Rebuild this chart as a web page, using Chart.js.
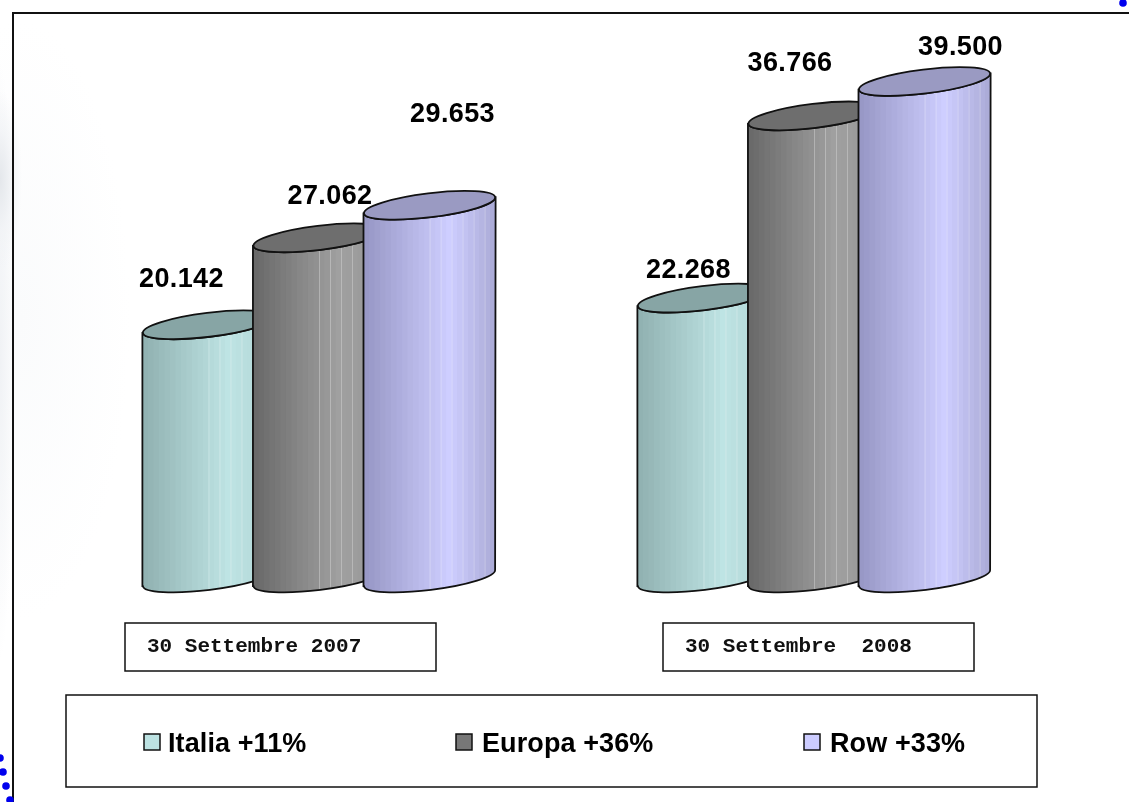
<!DOCTYPE html>
<html>
<head>
<meta charset="utf-8">
<title>Italia Europa Row</title>
<script src="https://cdn.jsdelivr.net/npm/chart.js@4"></script>
<style>
  html, body { margin: 0; padding: 0; width: 1129px; height: 802px; overflow: hidden; }
  body {
    background:
      radial-gradient(ellipse 22px 90px at 0px 180px, #e4e7eb 0%, rgba(240,242,245,0.7) 55%, rgba(255,255,255,0) 100%),
      radial-gradient(ellipse 14px 300px at 0px 360px, #f0f2f5 0%, rgba(255,255,255,0) 100%),
      radial-gradient(ellipse 110px 300px at 20px 320px, #fafbfc 0%, rgba(255,255,255,0) 100%),
      #ffffff;
  }
  canvas { display: block; }
</style>
</head>
<body>
<canvas id="chart" width="1129" height="802"></canvas>
<script>
/* ── dati ── */
const categories = ['30 Settembre 2007', '30 Settembre  2008'];
const seriesNames = ['Italia +11%', 'Europa +36%', 'Row +33%'];
const italia = [20142, 22268];
const europa = [27062, 36766];
const row = [29653, 39500];

// label offsets from the top of each cylinder (the labels are placed by hand in the original)
const labelOffsets = [
  [[-27, -45], [-15, -28]],
  [[11, -41], [-24, -52]],
  [[23, -91], [36, -34]]
];

const seriesStyles = [
  { lo: [143, 176, 176], hi: [190, 228, 228], end: [176, 212, 212], top: '#87a5a5', swatch: '#bce2e2' },
  { lo: [104, 104, 104], hi: [160, 160, 160], end: [150, 150, 150], top: '#6e6e6e', swatch: '#777777' },
  { lo: [150, 150, 196], hi: [206, 206, 255], end: [170, 170, 214], top: '#9a9ac2', swatch: '#ccccff' }
];

const legendX = [144, 456, 804];
const legendTextX = [168, 482, 830];
const boxes = [[125, 623, 311, 48, 147], [663, 623, 311, 48, 685]];

const fmt = v => String(v).replace(/\B(?=(\d{3})+$)/g, '.');

function mix(a, b, t) {
  return a.map((c, i) => Math.round(c + (b[i] - c) * t));
}

// ── Cylinders ──

function drawCylinder(ctx, bar, style) {
  const a = bar.width / 2;
  const b = 12;
  const tilt = -7 * Math.PI / 180;
  const dy = a * Math.sin(-tilt);
  const left = bar.x - a;
  const right = bar.x + a;

  ctx.save();
  ctx.beginPath();
  ctx.moveTo(left, bar.y + dy);
  ctx.lineTo(left, bar.base + dy);
  ctx.ellipse(bar.x, bar.base, a, b, tilt, Math.PI, 0, true);
  ctx.lineTo(right, bar.y - dy);
  ctx.ellipse(bar.x, bar.y, a, b, tilt, 0, Math.PI, false);
  ctx.closePath();

  ctx.save();
  ctx.clip();
  const bands = 24;
  const bw = bar.width / bands;
  for (let i = 0; i < bands; i++) {
    const t = (i + 0.5) / bands;
    const c = t < 0.65 ? mix(style.lo, style.hi, t / 0.65) : mix(style.hi, style.end, (t - 0.65) / 0.35);
    ctx.fillStyle = `rgb(${c.join(',')})`;
    ctx.fillRect(left + i * bw, bar.y - 30, bw + 1, bar.base - bar.y + 60);
    if (i > 11 && i % 2 === 0) {
      ctx.fillStyle = 'rgba(255,255,255,0.28)';
      ctx.fillRect(left + i * bw, bar.y - 30, 1, bar.base - bar.y + 60);
    }
  }
  ctx.restore();

  ctx.strokeStyle = '#111111';
  ctx.lineWidth = 1.8;
  ctx.stroke();

  ctx.beginPath();
  ctx.ellipse(bar.x, bar.y, a, b, tilt, 0, Math.PI * 2);
  ctx.fillStyle = style.top;
  ctx.fill();
  ctx.stroke();
  ctx.restore();
}

const cylinderPlugin = {
  id: 'cylinders',
  afterDatasetsDraw(chart) {
    const ctx = chart.ctx;
    chart.data.datasets.forEach((ds, d) => {
      chart.getDatasetMeta(d).data.forEach(bar => drawCylinder(ctx, bar, seriesStyles[d]));
    });
    ctx.save();
    ctx.fillStyle = '#000000';
    ctx.font = 'bold 27px "Liberation Sans", Arial, sans-serif';
    ctx.letterSpacing = '0.4px';
    ctx.textAlign = 'center';
    ctx.textBaseline = 'middle';
    chart.data.datasets.forEach((ds, d) => {
      chart.getDatasetMeta(d).data.forEach((bar, i) => {
        const off = labelOffsets[d][i];
        ctx.fillText(fmt(ds.data[i]), bar.x + off[0], bar.y + off[1]);
      });
    });
    ctx.restore();
  },
  afterDraw(chart) {
    const ctx = chart.ctx;
    ctx.save();

    // frame
    ctx.strokeStyle = '#111111';
    ctx.lineWidth = 2;
    ctx.beginPath();
    ctx.moveTo(13, 802);
    ctx.lineTo(13, 13);
    ctx.lineTo(1129, 13);
    ctx.stroke();

    // dots
    ctx.fillStyle = '#0000ee';
    [[1123, 3], [0, 758], [3, 772], [6, 786], [10, 800]].forEach(p => {
      ctx.beginPath();
      ctx.arc(p[0], p[1], 3.8, 0, Math.PI * 2);
      ctx.fill();
    });

    // date boxes
    ctx.lineWidth = 1.5;
    ctx.font = 'bold 21px "Liberation Mono", "Courier New", monospace';
    ctx.textBaseline = 'alphabetic';
    boxes.forEach((b, i) => {
      ctx.strokeRect(b[0], b[1], b[2], b[3]);
      ctx.fillStyle = '#111111';
      ctx.fillText(categories[i], b[4], 652);
    });

    // legend
    ctx.strokeRect(66, 695, 971, 92);
    ctx.font = 'bold 27px "Liberation Sans", Arial, sans-serif';
    ctx.letterSpacing = '0.1px';
    seriesNames.forEach((name, i) => {
      ctx.fillStyle = seriesStyles[i].swatch;
      ctx.fillRect(legendX[i], 734, 16, 16);
      ctx.lineWidth = 1.5;
      ctx.strokeRect(legendX[i], 734, 16, 16);
      ctx.fillStyle = '#000000';
      ctx.fillText(name, legendTextX[i], 752);
    });
    ctx.restore();
  }
};

// ── Chart ──

const mkSet = (label, data) => ({
  label,
  data,
  backgroundColor: 'transparent',
  borderWidth: 0,
  categoryPercentage: 0.67,
  barPercentage: 1.195
});

new Chart(document.getElementById('chart'), {
  type: 'bar',
  data: {
    labels: categories,
    datasets: [mkSet(seriesNames[0], italia), mkSet(seriesNames[1], europa), mkSet(seriesNames[2], row)]
  },
  plugins: [cylinderPlugin],
  options: {
    responsive: false,
    animation: false,
    layout: { padding: { left: 71.5, right: 67.5, top: 12.4, bottom: 224 } },
    plugins: { legend: { display: false }, tooltip: { enabled: false } },
    scales: {
      x: { display: false },
      y: { display: false, min: 0, max: 45000 }
    }
  }
});
</script>
</body>
</html>
